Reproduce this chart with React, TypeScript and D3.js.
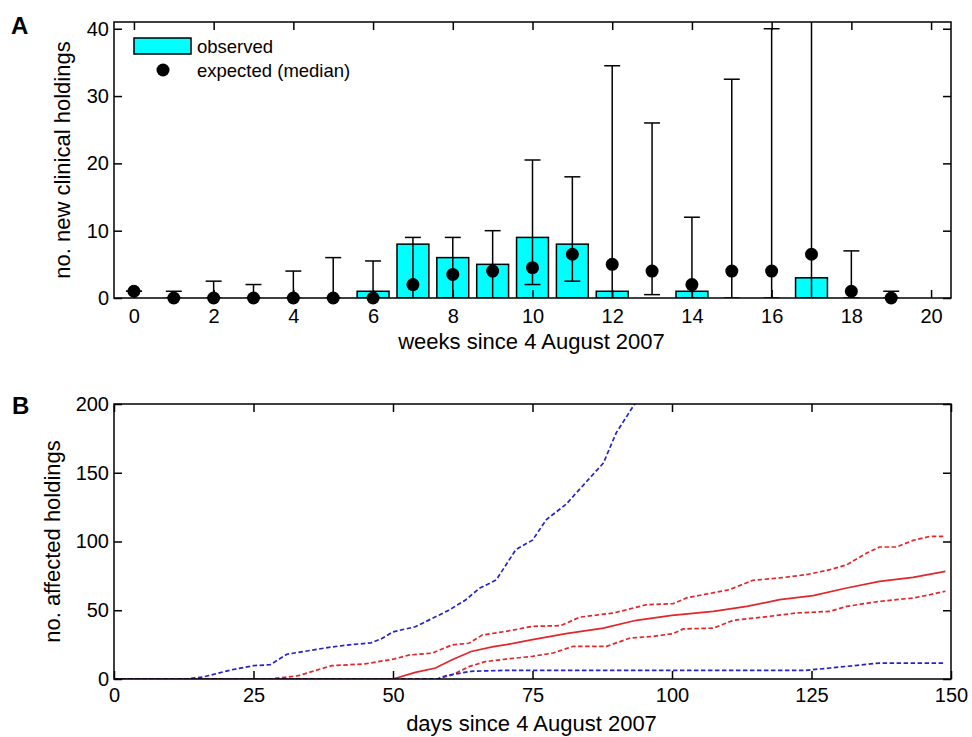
import * as d3 from "d3";
import { useEffect, useRef } from "react";

// panel A: weekly counts
const weeks = d3.range(0, 20);
const observed = [0, 0, 0, 0, 0, 0, 1, 8, 6, 5, 9, 8, 1, 0, 1, 0, 0, 3, 0, 0];
const expectedMedian = [1, 0, 0, 0, 0, 0, 0, 2, 3.5, 4, 4.5, 6.5, 5, 4, 2, 4, 4, 6.5, 1, 0];
const expectedLow = [1, 0, 0, 0, 0, 0, 0, 0, 0, 0, 2, 2.5, 0, 0.5, 0, 0, 0, 0, 0, 0];
const expectedHigh = [1, 1, 2.5, 2, 4, 6, 5.5, 9, 9, 10, 20.5, 18, 34.5, 26, 12, 32.5, 40, 60, 7, 1];
const weekTicks = d3.range(0, 21, 2);
const countTicks = [0, 10, 20, 30, 40];

// panel B: cumulative affected holdings
const medianDays = [0, 50, 54, 57.6, 60.6, 64, 68, 70.3, 75, 81, 87.7, 93.6, 100, 107.4, 113.4, 119.3, 125.3, 131.3, 137.2, 143.2, 149];
const medianVals = [0, 0, 4.8, 8, 14, 20, 23.5, 25, 28.6, 33, 37, 42.7, 46.3, 49.2, 52.8, 57.7, 60.6, 66.2, 71, 73.9, 78.3];
const redUpDays = [0, 28, 33, 39, 45, 50, 53, 57, 60.6, 63.6, 66, 70.3, 75, 80, 83.5, 89.5, 95.4, 100.2, 102.6, 110.3, 114.5, 119.3, 124.1, 128.3, 131.3, 134.9, 137.2, 140.2, 143.2, 146.2, 149];
const redUpVals = [0, 0, 2.4, 9.7, 11, 14.4, 17.5, 18.8, 24.8, 26, 32, 34.7, 38.3, 38.8, 45, 48, 54, 54.8, 59, 65, 71.8, 73.5, 75.9, 79.5, 83, 91.6, 96, 96, 100.8, 103.7, 103.7];
const redLowDays = [0, 58, 60.6, 63.6, 66.5, 70.3, 75, 78.7, 82.3, 88.3, 92.5, 96.6, 100.2, 102, 107.4, 111, 116.3, 122.3, 128.3, 131.3, 137.2, 143.2, 146.2, 149];
const redLowVals = [0, 0, 3, 9, 12.6, 14.5, 16.5, 18.9, 23.8, 23.8, 29.8, 31, 33, 36.4, 37, 42.7, 45, 48, 49.2, 52.8, 56.5, 58.9, 61.3, 63.8];
const blueUpDays = [0, 13, 16, 21, 25, 28, 31, 37, 39, 43, 46, 48, 50, 54, 57, 60, 63, 65.5, 68.5, 72, 75, 77.5, 81, 85, 87.7, 90, 93.3, 95];
const blueUpVals = [0, 0, 1.5, 6.6, 9.7, 10.4, 18, 22, 23.3, 25.2, 26.2, 29.4, 34.3, 38, 44, 50, 57.5, 66, 72, 94, 101, 116, 127, 145, 157, 179, 200, 206];
const blueLowDays = [0, 58, 59.4, 64, 70, 124, 128.3, 131.3, 137.2, 149];
const blueLowVals = [0, 0, 2.4, 5.6, 6.3, 6.3, 8, 9.2, 11.6, 11.6];
const dayTicks = [0, 25, 50, 75, 100, 125, 150];
const affTicks = [0, 50, 100, 150, 200];

const FONT = "Liberation Sans, Arial, sans-serif";
const TICK_FS = 20;
const LABEL_FS = 22;

export default function App() {
  const ref = useRef<SVGSVGElement>(null);

  useEffect(() => {
    const svg = d3.select(ref.current);
    svg.selectAll("*").remove();
    svg.style("font-family", FONT);

    const left = 114, right = 951;

    // ---------- panel A ----------
    const aTop = 22, aBottom = 298;
    const xA = d3.scaleLinear().domain([-0.5, 20.5]).range([left, right]);
    const yA = d3.scaleLinear().domain([0, 41]).range([aBottom, aTop]);

    svg.append("clipPath").attr("id", "clipA")
      .append("rect").attr("x", left).attr("y", aTop).attr("width", right - left).attr("height", aBottom - aTop);

    const gA = svg.append("g").attr("clip-path", "url(#clipA)");
    gA.selectAll("rect.bar")
      .data(weeks.filter((w) => observed[w] > 0))
      .join("rect")
      .attr("x", (w) => xA(w - 0.4))
      .attr("y", (w) => yA(observed[w]))
      .attr("width", xA(0.8) - xA(0))
      .attr("height", (w) => yA(0) - yA(observed[w]))
      .attr("fill", "#00ffff")
      .attr("stroke", "#000")
      .attr("stroke-width", 1.5);

    const cap = xA(0.2) - xA(0);
    weeks.forEach((w) => {
      const cx = xA(w);
      gA.append("line").attr("x1", cx).attr("x2", cx)
        .attr("y1", yA(expectedLow[w])).attr("y2", yA(expectedHigh[w]))
        .attr("stroke", "#000").attr("stroke-width", 1.5);
      [expectedLow[w], expectedHigh[w]].forEach((v) => {
        gA.append("line").attr("x1", cx - cap).attr("x2", cx + cap)
          .attr("y1", yA(v)).attr("y2", yA(v))
          .attr("stroke", "#000").attr("stroke-width", 1.5);
      });
    });
    svg.selectAll("circle.med")
      .data(weeks)
      .join("circle")
      .attr("cx", (w) => xA(w))
      .attr("cy", (w) => yA(expectedMedian[w]))
      .attr("r", 6.5)
      .attr("fill", "#000");

    drawAxes(svg, xA, yA, weekTicks, countTicks, aTop, aBottom, left, right, 11);

    svg.append("text").attr("x", (left + right) / 2 - 1).attr("y", 349)
      .attr("text-anchor", "middle").attr("font-size", LABEL_FS).text("weeks since 4 August 2007");
    svg.append("text")
      .attr("transform", `translate(70,${(aTop + aBottom) / 2}) rotate(-90)`)
      .attr("text-anchor", "middle").attr("font-size", LABEL_FS).text("no. new clinical holdings");
    svg.append("text").attr("x", 11).attr("y", 34).attr("font-size", 24)
      .attr("font-weight", "bold").text("A");

    // legend
    svg.append("rect").attr("x", 134).attr("y", 38).attr("width", 57).attr("height", 16)
      .attr("fill", "#00ffff").attr("stroke", "#000").attr("stroke-width", 1.5);
    svg.append("text").attr("x", 197).attr("y", 53).attr("font-size", 18.5).text("observed");
    svg.append("circle").attr("cx", 163).attr("cy", 70).attr("r", 6.5).attr("fill", "#000");
    svg.append("text").attr("x", 197).attr("y", 77).attr("font-size", 18.5).text("expected (median)");

    // ---------- panel B ----------
    const bTop = 404, bBottom = 679;
    const xB = d3.scaleLinear().domain([0, 150]).range([left, right]);
    const yB = d3.scaleLinear().domain([0, 200]).range([bBottom, bTop]);

    svg.append("clipPath").attr("id", "clipB")
      .append("rect").attr("x", left).attr("y", bTop).attr("width", right - left).attr("height", bBottom - bTop);
    const gB = svg.append("g").attr("clip-path", "url(#clipB)");

    const line = d3.line<[number, number]>().x((d) => xB(d[0])).y((d) => yB(d[1]));
    const series = [
      { days: redUpDays, vals: redUpVals, color: "#e3262b", dash: "4.5,2.5" },
      { days: redLowDays, vals: redLowVals, color: "#e3262b", dash: "4.5,2.5" },
      { days: medianDays, vals: medianVals, color: "#e3262b", dash: null },
      { days: blueUpDays, vals: blueUpVals, color: "#2424c8", dash: "4.5,2.5" },
      { days: blueLowDays, vals: blueLowVals, color: "#2424c8", dash: "4.5,2.5" },
    ];
    series.forEach((s) => {
      gB.append("path")
        .attr("d", line(s.days.map((d, i) => [d, s.vals[i]] as [number, number])))
        .attr("fill", "none")
        .attr("stroke", s.color)
        .attr("stroke-width", 1.7)
        .attr("stroke-dasharray", s.dash);
    });

    drawAxes(svg, xB, yB, dayTicks, affTicks, bTop, bBottom, left, right, 9);

    svg.append("text").attr("x", (left + right) / 2 - 1).attr("y", 731)
      .attr("text-anchor", "middle").attr("font-size", LABEL_FS).text("days since 4 August 2007");
    svg.append("text")
      .attr("transform", `translate(60,${(bTop + bBottom) / 2}) rotate(-90)`)
      .attr("text-anchor", "middle").attr("font-size", LABEL_FS).text("no. affected holdings");
    svg.append("text").attr("x", 12).attr("y", 414).attr("font-size", 24)
      .attr("font-weight", "bold").text("B");
  }, []);

  return (
    <div style={{ position: "absolute", left: 0, top: 0 }}>
      <svg ref={ref} width={972} height={737} style={{ display: "block", background: "#fff" }} />
    </div>
  );
}

function drawAxes(svg: any, x: any, y: any, xt: number[], yt: number[], top: number, bottom: number, left: number, right: number, xPad: number) {
  const tick = 8;
  const bottomAx = svg.append("g").attr("transform", `translate(0,${bottom})`)
    .call(d3.axisBottom(x).tickValues(xt).tickSizeInner(-tick).tickSizeOuter(0).tickPadding(xPad));
  const topAx = svg.append("g").attr("transform", `translate(0,${top})`)
    .call(d3.axisTop(x).tickValues(xt).tickSizeInner(-tick).tickSizeOuter(0).tickFormat(() => ""));
  const leftAx = svg.append("g").attr("transform", `translate(${left},0)`)
    .call(d3.axisLeft(y).tickValues(yt).tickSizeInner(-tick).tickSizeOuter(0).tickPadding(5));
  const rightAx = svg.append("g").attr("transform", `translate(${right},0)`)
    .call(d3.axisRight(y).tickValues(yt).tickSizeInner(-tick).tickSizeOuter(0).tickFormat(() => ""));
  [bottomAx, topAx, leftAx, rightAx].forEach((g) => {
    g.select(".domain").remove();
    g.selectAll("line").attr("stroke", "#000").attr("stroke-width", 1.5);
    g.selectAll("text").attr("font-size", TICK_FS).attr("font-family", FONT).attr("fill", "#000");
  });
  svg.append("rect").attr("x", left).attr("y", top).attr("width", right - left).attr("height", bottom - top)
    .attr("fill", "none").attr("stroke", "#000").attr("stroke-width", 1.5);
}
